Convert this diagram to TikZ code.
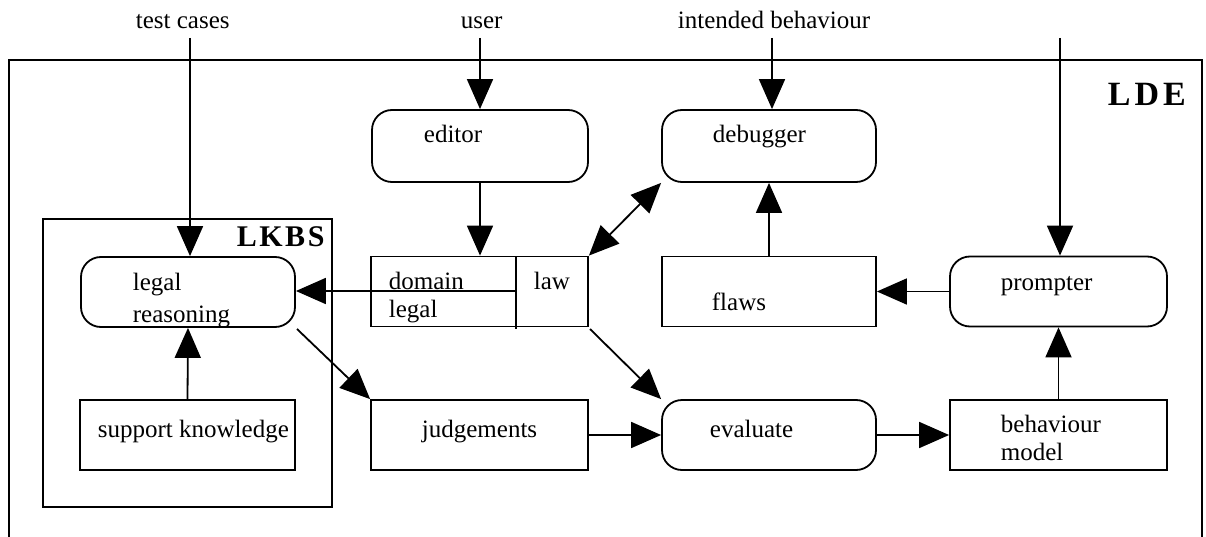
\documentclass[tikz,border=0pt]{standalone}
\usepackage{fontspec}
\setmainfont{Liberation Serif}
\usetikzlibrary{arrows.meta}
\begin{document}
\begin{tikzpicture}[x=1pt,y=-1pt,line width=1.8pt,
  box/.style={draw,rectangle,inner sep=0pt,minimum width=#1,minimum height=70pt},
  rbox/.style={box=#1,rounded corners=20pt},
  txt/.style={anchor=base west,inner sep=0pt,font=\fontsize{25}{28}\selectfont},
  ttl/.style={anchor=base west,inner sep=0pt,font=\bfseries\fontsize{#1}{#1}\selectfont},
  arr/.style={-{Triangle[length=30pt,width=26pt]}},
  darr/.style={{Triangle[length=30pt,width=26pt]}-{Triangle[length=30pt,width=26pt]}}]
\useasboundingbox (0,0) rectangle (1206,537);
% outer LDE frame (bottom edge off the page)
\draw (9,537) -- (9,60) -- (1202,60) -- (1202,537);
\node[ttl=34] (lde) at (1107,106) {L\kern4pt D\kern4pt E};
% LKBS frame
\node[draw,rectangle,inner sep=0pt,minimum width=289pt,minimum height=288pt] (lkbs) at (187.5,363) {};
\node[ttl=30] (lkbst) at (236,247) {L\kern2.5pt K\kern2.5pt B\kern2.5pt S};
% boxes
\node[rbox=216pt,minimum height=72pt] (editor) at (480,146) {};
\node[rbox=214pt,minimum height=72pt] (debugger) at (769,146) {};
\node[rbox=214pt,minimum height=70pt] (lr) at (188,292) {};
\node[box=217pt] (dl) at (479.5,291.5) {};
\node[box=214pt] (flaws) at (769,291.5) {};
\node[rbox=217pt] (prompter) at (1058.5,291.5) {};
\node[box=215pt] (sk) at (187.5,435) {};
\node[box=217pt] (judg) at (479.5,435) {};
\node[rbox=214pt] (eval) at (769,435) {};
\node[box=217pt] (bm) at (1058.5,435) {};
% divider in domain/law box
\coordinate (divtop) at (516,257);
\coordinate (divbot) at (516,329);
\coordinate (divmid) at (516,291);
\draw (divtop) -- (divbot);
% texts
\node[txt] (t1) at (135,29) {test cases};
\node[txt] (t2) at (460,29) {user};
\node[txt] (t3) at (677,29) {intended behaviour};
\node[txt] (t4) at (423,143) {editor};
\node[txt] (t5) at (712,143) {debugger};
\node[txt] (t6) at (132,290) {legal};
\node[txt] (t7) at (132,322) {reasoning};
\node[txt] (t8) at (388,289) {domain};
\node[txt] (t9) at (388,317) {legal};
\node[txt] (t10) at (533,289) {law};
\node[txt] (t11) at (711,310) {flaws};
\node[txt] (t12) at (1000,290) {prompter};
\node[txt] (t13) at (97,437) {support knowledge};
\node[txt] (t14) at (421,437) {judgements};
\node[txt] (t15) at (709,437) {evaluate};
\node[txt] (t16) at (1000,432) {behaviour};
\node[txt] (t17) at (1000,460) {model};
% incoming arrows
\coordinate (in1) at (190,38);
\coordinate (in2) at (480,38);
\coordinate (in3) at (772,38);
\coordinate (in4) at (1060,38);
\draw[arr] (in1) -- (in1 |- lr.north);
\draw[arr] (in2) -- (in2 |- editor.north);
\draw[arr] (in3) -- (in3 |- debugger.north);
\draw[arr] (in4) -- (in4 |- prompter.north);
% internal arrows
\draw[arr] (editor.south) -- (editor.south |- dl.north);
\draw[darr] (dl.north east) -- (debugger.south west);
\draw[arr] (flaws.north) -- (debugger.south);
\draw[arr] (prompter.west) -- (flaws.east);
\draw[arr] (divmid) -- (divmid -| lr.east);
\coordinate (lrout) at (297,329);
\draw[arr] (lrout) -- (judg.north west);
\coordinate (dlout) at (590,329);
\draw[arr] (dlout) -- (eval.north west);
\draw[arr] (sk.north) -- (lr.south);
\draw[arr] (judg.east) -- (eval.west);
\draw[arr] (eval.east) -- (bm.west);
\draw[arr] (bm.north) -- (prompter.south);
\end{tikzpicture}
\end{document}
